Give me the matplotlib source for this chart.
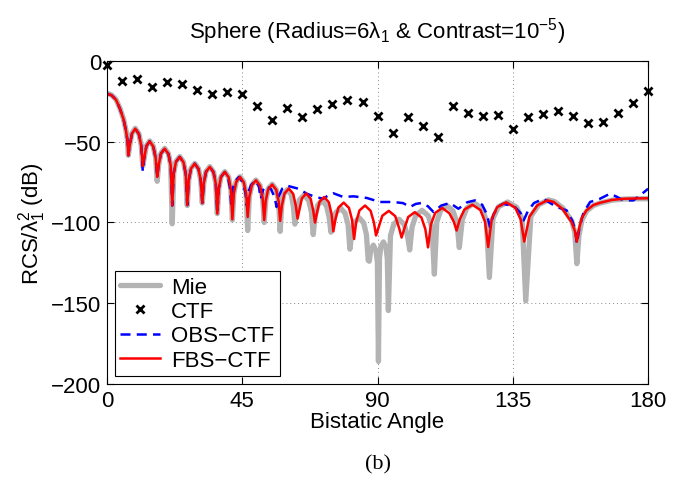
import matplotlib
matplotlib.use("Agg")
import matplotlib.pyplot as plt

plt.rcParams.update(
    {
        "font.family": ["Liberation Sans", "DejaVu Sans"],
        "font.size": 16,
        "mathtext.fontset": "custom",
        "mathtext.rm": "Liberation Sans",
        "mathtext.it": "Liberation Sans:italic",
        "axes.linewidth": 0.8,
    }
)

# CTF samples, every 5 degrees
ctf_angle = list(range(0, 181, 5))
ctf_db = [
    -2.5, -12.1, -10.9, -15.8, -13.1, -14.1, -18.0, -20.5, -19.5, -20.5,
    -27.7, -36.5, -28.9, -34.6, -29.5, -26.4, -24.2, -25.4, -34.2, -44.7,
    -34.4, -40.0, -46.9, -27.9, -32.0, -34.2, -33.6, -42.2, -34.6, -33.0,
    -30.9, -34.2, -38.1, -37.5, -32.2, -26.2, -18.6,
]

# FBS-CTF (red)
fbs_angle = [
    0, 1.5, 3, 4.3, 5.5, 6.3, 6.8, 7.1,
    7.6, 8.3, 9.4, 10.6, 11.4, 11.9,
    12.4, 13.1, 14.2, 15.4, 16.2, 16.7,
    17.2, 17.95, 19.2, 20.45, 21.2, 21.7,
    22.2, 22.95, 24.2, 25.45, 26.2, 26.7,
    27.2, 27.95, 29.2, 30.45, 31.2, 31.7,
    32.2, 32.95, 34.2, 35.45, 36.2, 36.7,
    37.2, 37.95, 39.2, 40.45, 41.2, 41.7,
    42.2, 43.0, 44.25, 45.5, 46.3, 46.8,
    47.35, 48.2, 49.55, 50.9, 51.75, 52.3,
    52.8, 53.6, 54.95, 56.3, 57.1, 57.6,
    58.2, 59.05, 60.5, 61.95, 62.8, 63.4,
    64.0, 64.85, 66.3, 67.75, 68.6, 69.2,
    69.8, 70.7, 72.25, 73.8, 74.7, 75.3,
    76.0, 77.0, 78.75, 80.5, 81.5, 82.2,
    82.9, 84.0, 85.85, 87.7, 88.8, 89.5,
    90.35, 91.6, 93.75, 95.9, 97.15, 98.0,
    98.9, 100.2, 102.4, 104.6, 105.9, 106.8,
    107.75, 109.2, 111.55, 113.9, 115.35, 116.3,
    117.35, 118.9, 121.55, 124.2, 125.75, 126.8,
    128.0, 129.8, 132.8, 135.8, 137.6, 138.8,
    140.5, 143.2, 146.5, 148.5, 151.5, 154.6, 155.6, 156.3,
    157.0, 158.0, 159.5, 161.8, 164, 168, 172, 176, 180,
]
fbs_db = [
    -20.2, -21.2, -24.0, -29.5, -36.0, -43.0, -49.0, -58.4,
    -52.0, -45.0, -41.9, -45.2, -52.5, -65.0,
    -60.0, -52.7, -49.7, -53.0, -60.2, -71.8,
    -64.5, -57.3, -54.3, -57.6, -64.8, -89.5,
    -69.6, -62.4, -59.4, -62.7, -69.9, -89.2,
    -73.8, -66.6, -63.6, -66.9, -74.1, -87.9,
    -75.8, -68.6, -65.6, -68.9, -76.1, -94.5,
    -78.9, -71.7, -68.7, -72.0, -79.2, -98.0,
    -82.0, -74.8, -71.8, -75.1, -82.3, -96.6,
    -84.1, -76.9, -73.9, -77.2, -84.4, -98.5,
    -86.7, -79.5, -76.5, -79.8, -87.0, -99.0,
    -89.2, -82.0, -79.0, -82.3, -89.5, -97.6,
    -92.2, -85.0, -82.0, -85.3, -92.5, -100.0,
    -94.4, -87.2, -84.2, -87.5, -94.7, -105.5,
    -97.9, -90.7, -87.7, -91.0, -98.2, -110.2,
    -99.7, -92.5, -89.5, -92.8, -100.0, -108.0,
    -103.0, -95.8, -92.8, -96.1, -103.3, -109.3,
    -103.8, -96.6, -93.6, -96.9, -104.1, -115.4,
    -101.2, -94.0, -91.0, -94.3, -99.5, -105.0,
    -98.0, -92.0, -89.0, -92.3, -99.5, -115.2,
    -97.7, -90.5, -87.5, -90.8, -98.0, -111.8,
    -96.5, -89.3, -86.3, -87.2, -91.5, -100.0, -105.0, -111.8,
    -104.0, -97.0, -92.5, -89.2, -87.8, -86.0, -85.3, -85.1, -85.0,
]

# Mie reference (grey)
mie_angle = [
    0, 1.5, 3, 4.3, 5.5, 6.3, 6.8, 7.1,
    7.6, 8.3, 9.4, 10.6, 11.4, 11.9,
    12.4, 13.1, 14.2, 15.4, 16.2, 16.7,
    17.2, 17.95, 19.2, 20.45, 21.2, 21.7,
    22.2, 22.95, 24.2, 25.45, 26.2, 26.7,
    27.2, 27.95, 29.2, 30.45, 31.2, 31.7,
    32.2, 32.95, 34.2, 35.45, 36.2, 36.7,
    37.2, 37.95, 39.2, 40.45, 41.2, 41.7,
    42.2, 43.0, 44.25, 45.5, 46.3, 46.8,
    47.35, 48.2, 49.55, 50.9, 51.75, 52.3,
    52.8, 53.6, 54.95, 56.3, 57.1, 57.6,
    58.1, 58.8, 60.05, 61.3, 62.0, 62.5,
    63.1, 64.0, 65.55, 67.1, 68.0, 68.6,
    69.2, 70.1, 71.55, 73.0, 73.9, 74.5,
    75.1, 76.1, 77.65, 79.2, 80.2, 80.8,
    81.4, 82.3, 83.85, 85.4, 86.3, 86.9,
    87.25, 87.75, 88.6, 89.45, 89.95, 90.3,
    90.65, 91.1, 91.95, 92.8, 93.25, 93.6,
    94.3, 95.4, 97.15, 98.9, 100.0, 100.7,
    101.5, 102.75, 104.8, 106.85, 108.1, 108.9,
    109.7, 111.0, 113.05, 115.1, 116.4, 117.2,
    118.2, 119.7, 122.2, 124.7, 126.2, 127.2,
    128.4, 130.2, 133.25, 136.3, 138.1, 139.3,
    141.0, 143.6, 146.8, 148.8, 151.6, 154.6, 155.6, 156.3,
    157.0, 158.0, 159.5, 161.8, 164, 168, 172, 176, 180,
]
mie_db = [
    -20.0, -21.0, -23.8, -29.3, -35.8, -42.8, -48.8, -58.4,
    -51.8, -44.8, -41.7, -45.0, -52.3, -65.0,
    -59.8, -52.5, -49.5, -52.8, -60.0, -74.5,
    -64.3, -57.1, -54.1, -57.4, -64.6, -100.8,
    -69.4, -62.2, -59.2, -62.5, -69.7, -89.5,
    -73.6, -66.4, -63.4, -66.7, -73.9, -88.0,
    -75.6, -68.4, -65.4, -68.7, -75.9, -94.5,
    -78.7, -71.5, -68.5, -71.8, -79.0, -98.5,
    -81.8, -74.6, -71.6, -74.9, -82.1, -105.0,
    -83.9, -76.7, -73.7, -77.0, -84.2, -100.0,
    -86.5, -79.3, -76.3, -79.6, -86.8, -105.5,
    -89.7, -82.5, -79.5, -82.8, -90.0, -101.0,
    -93.2, -86.0, -83.0, -86.3, -93.5, -107.5,
    -96.5, -89.3, -86.3, -89.6, -96.8, -106.0,
    -101.2, -94.0, -91.0, -94.3, -101.5, -116.5,
    -107.2, -100.0, -97.0, -100.3, -107.5, -123.5,
    -124.0, -117.0, -114.0, -117.3, -124.5, -186.0,
    -122.0, -115.0, -112.0, -115.3, -122.5, -154.5,
    -108.2, -101.0, -98.0, -101.3, -108.5, -117.0,
    -102.7, -95.5, -92.5, -95.8, -103.0, -132.0,
    -99.7, -92.5, -89.5, -92.8, -100.0, -115.5,
    -98.2, -91.0, -88.0, -91.3, -98.5, -134.0,
    -97.5, -90.3, -87.3, -90.6, -97.8, -148.5,
    -96.2, -89.0, -86.0, -86.9, -91.0, -99.0, -106.0, -125.5,
    -108.0, -98.5, -93.0, -89.5, -88.0, -86.2, -85.5, -85.3, -85.3,
]

# OBS-CTF (blue dashed)
obs_angle = [
    0, 1.5, 3, 4.3, 5.5, 6.3, 6.8, 7.1,
    7.6, 8.3, 9.4, 10.6, 11.4, 11.9,
    12.4, 13.1, 14.2, 15.4, 16.2, 16.7,
    17.2, 17.95, 19.2, 20.45, 21.2, 21.7,
    22.2, 22.95, 24.2, 25.45, 26.2, 26.7,
    27.2, 27.95, 29.2, 30.45, 31.2, 31.7,
    32.2, 32.95, 34.2, 35.45, 36.2, 36.7,
    37.2, 37.95, 39.2, 40.3, 40.9, 41.3,
    41.7, 42.6, 43.9, 45.2, 46.0, 46.5,
    47.0, 47.9, 49.3, 50.5, 51.2,
    51.9, 53.0, 54.6, 55.8, 56.4,
    57.1, 58.3, 59.8, 61.5, 63.7, 66.5, 69.3, 72.0, 73.7, 75.3,
    78.6, 82.0, 86.4, 90.8, 95.3, 98.5, 100.8, 102.7, 104.7,
    106.8, 108.6, 111.2, 114.1, 116.9, 119.8, 122.4, 124.8, 126.4, 127.4,
    128.6, 130.2, 131.8, 135.5, 137.5, 138.6, 140.0, 142.0, 145.1,
    149.6, 152.9, 154.8, 155.8, 156.3, 157.2, 158.5, 160.7,
    164.0, 167.3, 169.5, 171.8, 175.1, 177.5, 180,
]
obs_db = [
    -20.2, -21.2, -24.0, -29.5, -36.0, -43.0, -49.0, -58.4,
    -52.0, -45.0, -41.9, -45.2, -52.5, -68.3,
    -60.0, -52.7, -49.7, -53.0, -60.2, -71.8,
    -64.5, -57.3, -54.3, -57.6, -64.8, -89.5,
    -69.6, -62.4, -59.4, -62.7, -69.9, -89.2,
    -73.8, -66.6, -63.6, -66.9, -74.1, -87.9,
    -75.8, -68.6, -65.6, -68.9, -76.1, -94.5,
    -78.9, -71.7, -68.7, -72.5, -78.5, -88.3,
    -80.0, -74.5, -71.8, -75.2, -81.0, -89.4,
    -81.5, -77.0, -74.0, -77.5, -85.3,
    -80.0, -77.2, -79.5, -84.5, -90.4,
    -84.0, -79.0, -77.2, -78.0, -79.1, -82.2, -84.2, -85.3, -83.0, -81.9,
    -84.2, -83.8, -84.8, -87.3, -87.3, -88.0, -90.4, -88.5, -87.9,
    -90.0, -93.5, -89.5, -87.9, -91.5, -87.5, -86.3, -89.0, -95.0, -102.8,
    -95.0, -90.0, -88.4, -90.0, -94.0, -98.7, -93.0, -88.0, -85.3,
    -90.4, -92.5, -99.0, -105.0, -113.1, -103.0, -94.0, -87.3,
    -85.3, -82.2, -84.0, -86.3, -86.3, -83.0, -79.1,
]

fig = plt.figure(figsize=(6.88, 4.81), dpi=100)
ax = fig.add_axes([0.1555, 0.1996, 0.7865, 0.6715])

ax.plot(mie_angle, mie_db, color="#b3b3b3", lw=3.8, label="Mie",
        solid_joinstyle="round", solid_capstyle="round")
ax.plot(ctf_angle, ctf_db, linestyle="none", marker="x", color="black",
        markersize=6, markeredgewidth=2, label="CTF", clip_on=False)
ax.plot(obs_angle, obs_db, color="#0000ff", lw=1.8,
        linestyle=(0, (4, 2.5)), label="OBS\u2212CTF",
        dash_joinstyle="round")
ax.plot(fbs_angle, fbs_db, color="#ff0000", lw=1.8, label="FBS\u2212CTF",
        solid_joinstyle="round")

ax.set_xlim(0, 180)
ax.set_ylim(-200, 0)
ax.set_xticks([0, 45, 90, 135, 180])
ax.set_yticks([0, -50, -100, -150, -200])
ax.set_yticklabels(["0", "\u221250", "\u2212100", "\u2212150", "\u2212200"])
ax.tick_params(direction="in", top=True, right=True, length=5, width=0.8,
               labelsize=16, pad=4)
ax.grid(True, color="#888888", linestyle=(0, (1, 3)), linewidth=0.7)

ax.set_title("Sphere (Radius=6\u03bb$_1$ & Contrast=10$^{-5}$)",
             fontsize=16, pad=17)
ax.set_xlabel("Bistatic Angle", fontsize=16, labelpad=0)
ax.set_ylabel("RCS/\u03bb$_1^2$ (dB)", fontsize=16, labelpad=2)

leg = ax.legend(loc="lower left", bbox_to_anchor=(0.014, 0.024),
                borderaxespad=0, fontsize=16, handlelength=1.8,
                handletextpad=0.5, fancybox=False, framealpha=1,
                edgecolor="black", borderpad=0.25, labelspacing=0.15)
leg.get_frame().set_linewidth(0.8)

fig.text(0.549, 0.033, "(b)", family="Liberation Serif", fontsize=16,
         ha="center", va="center")

fig.savefig("out.png", dpi=100)
